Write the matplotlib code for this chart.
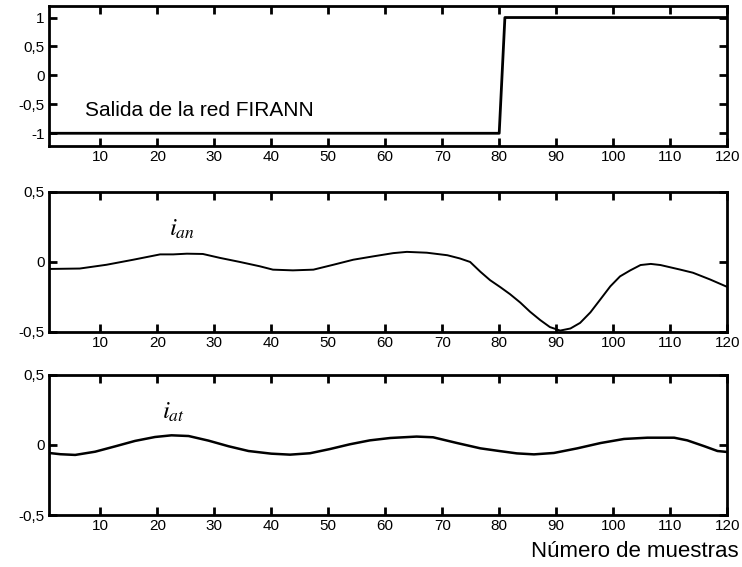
import matplotlib
matplotlib.use("Agg")
import matplotlib.pyplot as plt

plt.rcParams['font.family'] = ['Liberation Sans', 'DejaVu Sans']
plt.rcParams['mathtext.fontset'] = 'stix'

# Salida de la red FIRANN (muestras 1..120)
n_muestras = list(range(1, 121))
salida_red = [-1] * 80 + [1] * 40

# i_an
x_an = [1, 6.4, 11.1, 15.8, 20.5, 22.8, 25.2, 28, 31, 34.5, 38, 40.3, 43.8, 47.4,
        50.9, 54.4, 57.9, 61.4, 63.8, 67.3, 70.9, 73.1, 74.9, 76.7, 78.4, 80.2,
        81.9, 83.7, 85.4, 87.2, 88.9, 90.7, 92.5, 94.2, 96, 97.7, 99.5, 101.2,
        103, 104.8, 106.6, 108.3, 111.8, 114, 117, 120]
i_an = [-0.050, -0.047, -0.020, 0.016, 0.054, 0.054, 0.059, 0.057, 0.029, 0.0,
        -0.031, -0.055, -0.060, -0.055, -0.020, 0.016, 0.040, 0.063, 0.072, 0.066,
        0.048, 0.025, 0.0, -0.070, -0.130, -0.180, -0.230, -0.290, -0.355, -0.415,
        -0.465, -0.490, -0.475, -0.435, -0.360, -0.270, -0.174, -0.103, -0.060,
        -0.022, -0.014, -0.022, -0.055, -0.077, -0.125, -0.178]

# i_at
x_at = [1, 3, 5.6, 9.1, 12.6, 16.1, 19.6, 22.5, 25.5, 29, 32.5, 36, 40, 43.3,
        46.8, 50.3, 53.8, 57.3, 60.9, 65.5, 68.4, 72.6, 76.7, 80, 83.1, 86.1,
        89.6, 93.7, 97.8, 101.9, 106, 110.7, 113, 116, 118.3, 120]
i_at = [-0.057, -0.066, -0.071, -0.048, -0.010, 0.029, 0.057, 0.069, 0.064, 0.031,
        -0.009, -0.043, -0.062, -0.069, -0.059, -0.029, 0.005, 0.033, 0.050, 0.060,
        0.055, 0.014, -0.024, -0.043, -0.060, -0.067, -0.057, -0.024, 0.014, 0.043,
        0.052, 0.052, 0.033, -0.009, -0.043, -0.050]

x_ticks = list(range(10, 121, 10))

fig = plt.figure(figsize=(7.42, 5.67), dpi=100)
left, width, height = 0.066, 0.914, 0.247
ax1 = fig.add_axes([left, 0.7425, width, height])
ax2 = fig.add_axes([left, 0.4145, width, height])
ax3 = fig.add_axes([left, 0.0917, width, height])


def style(ax, yticks, ylabels, ylim):
    ax.set_xlim(1, 120)
    ax.set_ylim(*ylim)
    ax.set_xticks(x_ticks)
    ax.set_yticks(yticks)
    ax.set_yticklabels(ylabels)
    ax.tick_params(direction='in', top=True, right=True, length=6, width=2,
                   labelsize=11, pad=3)
    for s in ax.spines.values():
        s.set_linewidth(2)


ax1.plot(n_muestras, salida_red, color='black', lw=2)
style(ax1, [-1, -0.5, 0, 0.5, 1], ['-1', '-0,5', '0', '0,5', '1'], (-1.22, 1.2))
ax1.text(7.3, -0.6, 'Salida de la red FIRANN', fontsize=15, va='center')

ax2.plot(x_an, i_an, color='black', lw=1.4)
style(ax2, [-0.5, 0, 0.5], ['-0,5', '0', '0,5'], (-0.5, 0.5))
ax2.text(22, 0.19, r'$i_{an}$', fontsize=18)

ax3.plot(x_at, i_at, color='black', lw=1.8)
style(ax3, [-0.5, 0, 0.5], ['-0,5', '0', '0,5'], (-0.5, 0.5))
ax3.text(20.8, 0.19, r'$i_{at}$', fontsize=18)

fig.text(0.995, 0.028, 'Número de muestras', fontsize=16, ha='right', va='center')

fig.savefig('out.png', dpi=100)
